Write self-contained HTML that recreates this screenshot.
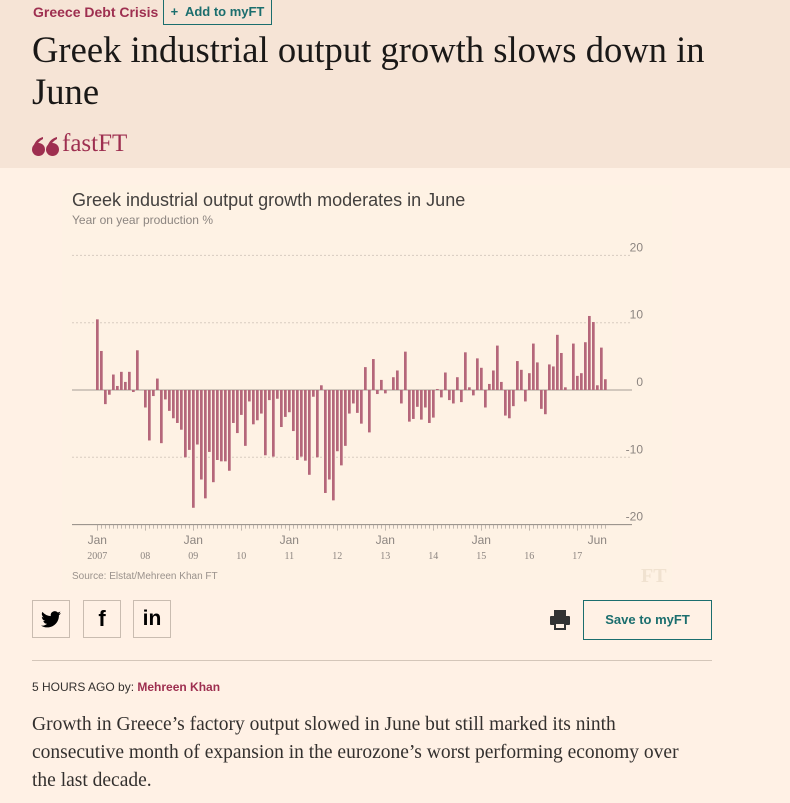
<!DOCTYPE html>
<html><head><meta charset="utf-8">
<style>
body{margin:0;width:790px;height:803px;overflow:hidden;background:#fff1e5;font-family:"Liberation Sans",sans-serif;position:relative}
.hdr{position:absolute;left:0;top:0;width:790px;height:168px;background:#f6e4d6}
.abs{position:absolute}
.serif{font-family:"Liberation Serif",serif}
.sq{position:absolute;top:600px;width:38px;height:38px;border:1px solid #c9bcb0;box-sizing:border-box;display:flex;align-items:center;justify-content:center;font-weight:bold;color:#000}
</style></head><body>
<div class="hdr"></div>
<div class="abs" style="left:33px;top:4px;font-size:14px;font-weight:bold;color:#9e2f50">Greece Debt Crisis</div>
<div class="abs" style="left:163px;top:0;width:109px;height:25px;border:1px solid #1b6e6e;border-top:none;box-sizing:border-box;font-size:13px;font-weight:bold;color:#1b6e6e;line-height:24px;text-align:center">+&nbsp; Add to myFT</div>
<div class="abs serif" style="left:32px;top:29px;width:720px;font-size:36.6px;line-height:42px;color:#1a1817">Greek industrial output growth slows down in June</div>
<svg class="abs" style="left:32px;top:137px" width="28" height="20"><circle cx="6.5" cy="12.5" r="6.5" fill="#9e2f50"/><path d="M1 11 Q3 2 11 0 L11 2 Q5 5 5 10Z" fill="#9e2f50"/><circle cx="20.5" cy="12.5" r="6.5" fill="#9e2f50"/><path d="M15 11 Q17 2 25 0 L25 2 Q19 5 19 10Z" fill="#9e2f50"/></svg>
<div class="abs serif" style="left:62px;top:130px;font-size:25px;color:#9e2f50">fastFT</div>
<div class="abs" style="left:62px;top:185px;width:610px;height:405px;background:#fef2e4"></div>
<div class="abs" style="left:72px;top:190px;font-size:18px;color:#43403e">Greek industrial output growth moderates in June</div>
<div class="abs" style="left:72px;top:213px;font-size:12px;color:#8c8580">Year on year production %</div>
<svg class="abs" style="left:0;top:0" width="790" height="600" id="chart"></svg>
<div class="abs" style="left:72px;top:571px;font-size:10px;color:#9a928c">Source: Elstat/Mehreen Khan FT</div>
<div class="abs serif" style="left:641px;top:565px;font-size:20px;font-weight:bold;color:#f0e2d0">FT</div>
<div class="sq" style="left:32px"><svg width="20" height="17" viewBox="0 0 24 20"><path d="M24 2.4a10 10 0 0 1-2.8.8A5 5 0 0 0 23.3.4a10 10 0 0 1-3.1 1.2A4.9 4.9 0 0 0 11.8 6 14 14 0 0 1 1.7.9a4.9 4.9 0 0 0 1.5 6.6A4.9 4.9 0 0 1 1 6.9a4.9 4.9 0 0 0 3.9 4.8 5 5 0 0 1-2.2.1 4.9 4.9 0 0 0 4.6 3.4A9.9 9.9 0 0 1 0 17.3 14 14 0 0 0 7.5 19.5c9 0 14-7.5 14-14v-.6A10 10 0 0 0 24 2.4z" fill="#000"/></svg></div>
<div class="sq" style="left:83px;font-size:22px">f</div>
<div class="sq" style="left:133px;font-size:21px">in</div>
<svg class="abs" style="left:549px;top:609px" width="22" height="22"><rect x="5" y="1" width="12" height="6" fill="#333"/><rect x="1" y="7" width="20" height="9" rx="1" fill="#333"/><rect x="5" y="13" width="12" height="8" fill="#333"/><rect x="7" y="15" width="8" height="4" fill="#fff1e5"/></svg>
<div class="abs" style="left:583px;top:600px;width:129px;height:40px;border:1px solid #1b6e6e;box-sizing:border-box;font-size:13px;font-weight:bold;color:#1b6e6e;line-height:38px;text-align:center">Save to myFT</div>
<div class="abs" style="left:32px;top:660px;width:680px;height:1px;background:#d4c6b9"></div>
<div class="abs" style="left:32px;top:680px;font-size:12px;color:#33302e">5 HOURS AGO by: <span style="font-weight:bold;color:#9e2f50">Mehreen Khan</span></div>
<div class="abs serif" style="left:32px;top:711px;width:660px;font-size:19.5px;line-height:28px;color:#33302e">Growth in Greece’s factory output slowed in June but still marked its ninth consecutive month of expansion in the eurozone’s worst performing economy over the last decade.</div>
<script>
const values=[10.5,5.8,-2.1,-0.7,2.3,0.6,2.7,1.2,2.7,-0.3,5.9,0,
-2.6,-7.5,-0.9,1.7,-7.9,-1.4,-3.1,-4.2,-4.9,-5.9,-10,-8.9,
-17.5,-8.1,-13.3,-16.1,-9.2,-13.7,-10.4,-10.6,-10.6,-12.0,-4.9,-6.4,
-3.7,-8.3,-1.7,-5.1,-4.5,-3.5,-9.7,-1.5,-9.9,-1.3,-5.5,-4.0,
-3.3,-6.1,-10.4,-9.9,-10.5,-12.6,-1.0,-10,0.7,-15.3,-13.3,-16.4,
-9.1,-11.2,-8.3,-3.5,-2.0,-3.4,-5.0,3.4,-6.3,4.6,-0.6,1.5,
-0.5,0,1.9,2.9,-2.0,5.7,-4.7,-4.3,-2.5,-4.4,-2.6,-4.9,
-4.1,0.15,-1.1,2.6,-1.5,-2.0,1.9,-1.8,5.6,0.4,-0.8,4.7,
3.3,-2.6,0.9,2.9,6.6,1.2,-3.8,-4.2,-2.4,4.3,3.0,-1.7,
2.5,6.9,4.1,-2.8,-3.6,3.8,3.5,8.2,5.5,0.4,0,6.9,
2.1,2.5,7.1,11,10.1,0.7,6.3,1.6];
const yTicks=[20,10,0,-10,-20];
const monthLabels=["Jan","Jan","Jan","Jan","Jan","Jun"];
const monthLabelIdx=[0,24,48,72,96,125];
const yearLabels=["2007","08","09","10","11","12","13","14","15","16","17"];
const NS="http://www.w3.org/2000/svg";
const svg=document.getElementById('chart');
const x0=97.3,step=4,left=72,right=632;
const yScale=v=>390-v*6.73;
const xScale=i=>x0+i*step;
function mk(t,a){const e=document.createElementNS(NS,t);for(const k in a)e.setAttribute(k,a[k]);svg.appendChild(e);return e;}
yTicks.forEach(t=>{
  const y=yScale(t);
  let g;
  if(t===-20) g=mk('line',{x1:left,x2:right,y1:y,y2:y,stroke:'#8f8882','stroke-width':1});
  else if(t===0) g=mk('line',{x1:left,x2:right,y1:y,y2:y,stroke:'#a59d96','stroke-width':1});
  else g=mk('line',{x1:left,x2:right,y1:y,y2:y,stroke:'#d8ccc0','stroke-width':1,'stroke-dasharray':'2,2'});
  
  
  const tx=mk('text',{x:643,y:y-4,'text-anchor':'end','font-size':12,fill:'#8c8580','font-family':'Liberation Sans'});
  tx.textContent=t;
  
  
});
values.forEach((v,i)=>{
  const y=yScale(Math.max(v,0)),h=Math.abs(yScale(v)-yScale(0));
  const r=mk('rect',{x:xScale(i)-1.3,y:y,width:2.7,height:Math.max(h,0.01),fill:'#b5677a'});
  
  
});
const ay=yScale(-20);
for(let i=0;i<values.length;i++){
  const t=mk('line',{x1:xScale(i),x2:xScale(i),y1:ay,y2:ay+(i%12===0?6:4),stroke:'#9a928c','stroke-width':0.6});
  
  
}
monthLabels.forEach((m,k)=>{
  const t=mk('text',{x:xScale(monthLabelIdx[k]),y:544,'text-anchor':'middle','font-size':12,fill:'#8c8580','font-family':'Liberation Sans'});
  t.textContent=m;
  
  
});
yearLabels.forEach((yl,k)=>{
  const t=mk('text',{x:xScale(k*12),y:559,'text-anchor':'middle','font-size':10,fill:'#8c8580','font-family':'Liberation Serif'});
  t.textContent=yl;
  
  
});
</script>
</body></html>
